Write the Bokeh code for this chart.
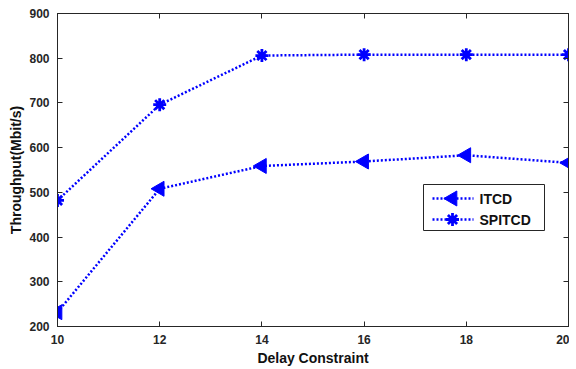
from bokeh.plotting import figure
from bokeh.models import LinearAxis, Range1d, FixedTicker, Label
from bokeh.embed import file_html
from bokeh.resources import INLINE

delay = [10, 12, 14, 16, 18, 20]
itcd = [232, 508, 559, 569, 583, 566]
spitcd = [482, 696, 806, 808, 808, 808]
x_ticks = [10, 12, 14, 16, 18, 20]
y_ticks = [200, 300, 400, 500, 600, 700, 800, 900]
series_names = ["ITCD", "SPITCD"]

FONT = "Liberation Sans"
AX = "#262626"
BLUE = "#0000ff"

X0, X1, Y0, Y1 = 10, 20, 200, 900
FW, FH = 511, 313
BL, BT = 57, 13

p = figure(frame_width=FW, frame_height=FH, output_backend="svg", toolbar_location=None,
           x_range=Range1d(X0, X1), y_range=Range1d(Y0, Y1),
           min_border_left=BL, min_border_top=BT, min_border_right=1, min_border_bottom=38,
           x_axis_label="Delay Constraint", y_axis_label="Throughput(Mbit/s)")
p.grid.visible = False
p.outline_line_color = AX
p.outline_line_width = 1

for ax in [p.xaxis[0], p.yaxis[0]]:
    ax.axis_line_color = AX
    ax.major_tick_line_color = AX
    ax.major_tick_in = 5
    ax.major_tick_out = 0
    ax.minor_tick_line_color = None
    ax.major_label_text_font = FONT
    ax.major_label_text_font_style = "bold"
    ax.major_label_text_font_size = "12px"
    ax.major_label_text_color = AX
    ax.axis_label_text_font = FONT
    ax.axis_label_text_font_style = "bold"
    ax.axis_label_text_font_size = "14px"
    ax.axis_label_text_color = "#111111"
p.xaxis[0].ticker = FixedTicker(ticks=x_ticks)
p.yaxis[0].ticker = FixedTicker(ticks=y_ticks)
p.xaxis[0].major_label_standoff = 8
p.yaxis[0].major_label_standoff = 8
p.xaxis[0].axis_label_standoff = 3
p.yaxis[0].axis_label_standoff = 2

top = LinearAxis(ticker=FixedTicker(ticks=x_ticks),
                 major_label_overrides={t: "" for t in x_ticks})
right = LinearAxis(ticker=FixedTicker(ticks=y_ticks),
                   major_label_overrides={t: "" for t in y_ticks})
for ax in [top, right]:
    ax.axis_line_color = AX
    ax.major_tick_line_color = AX
    ax.major_tick_in = 5
    ax.major_tick_out = 0
    ax.minor_tick_line_color = None
    ax.major_label_text_font_size = "1px"
    ax.major_label_standoff = 0
p.add_layout(top, "above")
p.add_layout(right, "right")

p.line(delay, itcd, line_color=BLUE, line_width=2.5, line_dash="2 2")
p.scatter(delay, itcd, marker="triangle", angle=1.5708, size=15,
          fill_color=BLUE, line_color=BLUE, line_width=1)
p.line(delay, spitcd, line_color=BLUE, line_width=2.5, line_dash="2 2")
p.scatter(delay, spitcd, marker="asterisk", size=13,
          line_color=BLUE, line_width=2.8)

# legend drawn by hand (screen-pixel layout converted through the fixed ranges)
def dx(px):
    return X0 + (px - BL) / FW * (X1 - X0)

def dy(py):
    return Y0 + (BT + FH - py) / FH * (Y1 - Y0)

p.quad(left=[dx(423)], right=[dx(544)], top=[dy(184)], bottom=[dy(230)],
       fill_color="white", line_color=AX, line_width=1)
rows = [198, 219]
for name, ry in zip(series_names, rows):
    p.line([dx(432), dx(473)], [dy(ry), dy(ry)], line_color=BLUE, line_width=2.5, line_dash="2 2")
    if name == "ITCD":
        p.scatter([dx(452)], [dy(ry)], marker="triangle", angle=1.5708, size=15,
                  fill_color=BLUE, line_color=BLUE, line_width=1)
    else:
        p.scatter([dx(452)], [dy(ry)], marker="asterisk", size=13,
                  line_color=BLUE, line_width=2.8)
    p.add_layout(Label(x=dx(479), y=dy(ry), text=name, text_font=FONT,
                       text_font_style="bold", text_font_size="14px",
                       text_color="#111111", text_baseline="middle"))

open("out.html", "w").write(file_html(p, INLINE))
